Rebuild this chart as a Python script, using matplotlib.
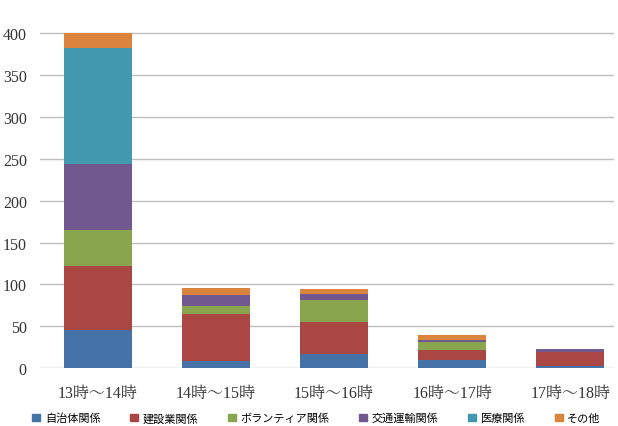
import matplotlib
matplotlib.use('Agg')
import matplotlib.pyplot as plt
import matplotlib.patches as patches
import numpy as np

# time slots
categories = ['13時〜14時', '14時〜15時', '15時〜16時', '16時〜17時', '17時〜18時']

# stacked series (bottom -> top)
series_names = ['自治体関係', '建設業関係', 'ボランティア関係', '交通運輸関係', '医療関係', 'その他']
s_blue = [45, 8, 17, 9, 2]
s_red = [77, 57, 38, 13, 17]
s_green = [43, 9, 26, 9, 0]
s_purple = [79, 13, 7, 3, 4]
s_teal = [139, 0, 0, 0, 0]
s_orange = [18, 9, 6, 5, 0]

yticks = [0, 50, 100, 150, 200, 250, 300, 350, 400]

colors = ['#4572A7', '#AA4643', '#89A54E', '#71588F', '#4198AF', '#DB843D']

num_font = ['Liberation Serif', 'Noto Serif CJK JP', 'Noto Sans CJK JP']

fig = plt.figure(figsize=(6.18, 4.27), dpi=100)
ax = fig.add_axes([0.0647, 0.1358, 0.9288, 0.7876])

x = np.arange(len(categories))
bottom = np.zeros(len(categories))
for vals, col in zip([s_blue, s_red, s_green, s_purple, s_teal, s_orange], colors):
    ax.bar(x, vals, width=0.576, bottom=bottom, color=col, zorder=3)
    bottom += np.array(vals)

ax.set_ylim(0, 402)
ax.set_xlim(-0.49, 4.37)
ax.set_yticks(yticks)
ax.set_xticks(x)
ax.set_xticklabels(categories, family=num_font, fontsize=11.5, color='#333333')
ax.set_yticklabels([str(v) for v in yticks], family=num_font, fontsize=11.5, color='#333333')
ax.tick_params(axis='both', length=0)
ax.tick_params(axis='y', pad=9.5)
ax.tick_params(axis='x', pad=12)
ax.grid(axis='y', color='#bfbfbf', linewidth=1, zorder=0)
for s in ax.spines.values():
    s.set_visible(False)

# legend squeezed against the bottom edge
handles = [patches.Patch(color=c) for c in colors]
fig.legend(handles, series_names, ncol=6, loc='lower left', bbox_to_anchor=(0.04, -0.012),
           frameon=False, handlelength=0.7, handleheight=0.7, columnspacing=2.7,
           handletextpad=0.4, borderpad=0.2,
           prop={'family': ['Noto Sans CJK JP'], 'size': 8})

fig.savefig('out.png', dpi=100)
